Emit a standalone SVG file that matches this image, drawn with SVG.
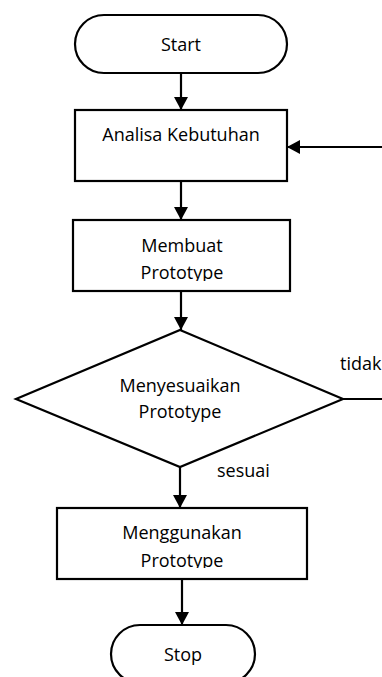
<svg xmlns="http://www.w3.org/2000/svg" width="382" height="677" viewBox="0 0 382 677">
<style>
.shape{fill:#fff;stroke:#000;stroke-width:2.2}
.line{fill:none;stroke:#000;stroke-width:2.2}
text{font-family:"Open Sans","Liberation Sans",sans-serif;font-size:18px;fill:#000;text-anchor:middle}
.lbl{text-anchor:start}
</style>
<defs>
<marker id="arr" markerWidth="14" markerHeight="14" refX="13" refY="7" orient="auto" markerUnits="userSpaceOnUse">
<path d="M0,0 L13,7 L0,14 Z" fill="#000"/>
</marker>
<clipPath id="c2"><rect x="74" y="221" width="215" height="60"/></clipPath>
<clipPath id="c3"><rect x="58" y="509" width="248" height="59"/></clipPath>
</defs>
<g id="connectors">
<line class="line" x1="181" y1="73" x2="181" y2="110" marker-end="url(#arr)"/>
<line class="line" x1="181" y1="181" x2="181" y2="220" marker-end="url(#arr)"/>
<line class="line" x1="181" y1="291" x2="181" y2="330" marker-end="url(#arr)"/>
<line class="line" x1="180" y1="467" x2="180" y2="508" marker-end="url(#arr)"/>
<line class="line" x1="182" y1="579" x2="182" y2="625" marker-end="url(#arr)"/>
<line class="line" x1="343" y1="399" x2="384" y2="399"/>
<line class="line" x1="384" y1="147" x2="287" y2="147" marker-end="url(#arr)"/>
<text class="lbl" x="340" y="370">tidak</text>
<text class="lbl" x="217" y="477">sesuai</text>
</g>
<g id="start">
<rect class="shape" x="75" y="15" width="212" height="58" rx="29"/>
<text x="181" y="51">Start</text>
</g>
<g id="analisa">
<rect class="shape" x="75" y="110" width="212" height="71"/>
<text x="181" y="141">Analisa Kebutuhan</text>
</g>
<g id="membuat">
<rect class="shape" x="73" y="220" width="217" height="71"/>
<g clip-path="url(#c2)">
<text x="182" y="252">Membuat</text>
<text x="182" y="279">Prototype</text>
</g>
</g>
<g id="menyesuaikan">
<polygon class="shape" points="180,330 343,399 180,467 16,399"/>
<text x="180" y="392">Menyesuaikan</text>
<text x="180" y="418">Prototype</text>
</g>
<g id="menggunakan">
<rect class="shape" x="57" y="508" width="250" height="71"/>
<g clip-path="url(#c3)">
<text x="182" y="539">Menggunakan</text>
<text x="182" y="567">Prototype</text>
</g>
</g>
<g id="stop">
<rect class="shape" x="111" y="625" width="144" height="58" rx="29"/>
<text x="183" y="661">Stop</text>
</g>
</svg>
